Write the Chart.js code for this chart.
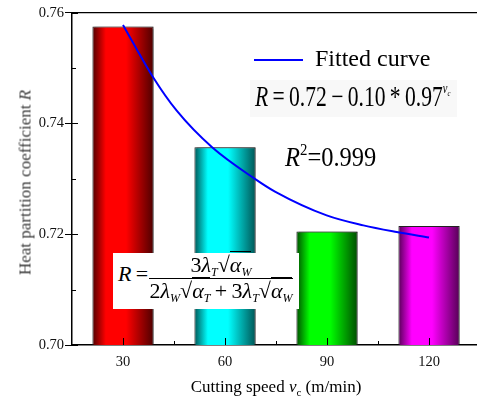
<!DOCTYPE html>
<html>
<head>
<meta charset="utf-8">
<script src="https://cdn.jsdelivr.net/npm/chart.js@4.4.1/dist/chart.umd.min.js"></script>
<style>
  html, body { margin: 0; padding: 0; background: #fff; }
  #wrap { position: relative; width: 477px; height: 399px; overflow: hidden; background: #fff; }
  #c { position: absolute; left: 0; top: 0; }
  .t { position: absolute; font-family: "Liberation Serif", "Times New Roman", serif; font-weight: normal; color: #000; white-space: nowrap; }
  .s { font-size: 12px; position: relative; top: 4px; font-style: italic; }
  .rad { border-top: 1px solid #000; }
</style>
</head>
<body>
<div id="wrap">
  <canvas id="c" width="482" height="399"></canvas>

  <!-- fitted expression -->
  <div class="t" style="left:250px;top:80px;width:207px;height:37px;background:#f8f8f8"></div>
  <div class="t" style="left:255px;top:82.4px;font-size:29px;line-height:29px;transform:scaleX(0.745);transform-origin:0 0;">
    <i>R</i>&thinsp;=&thinsp;0.72&thinsp;&minus;&thinsp;0.10&thinsp;*&thinsp;0.97<span style="font-size:14px;position:relative;top:-13px;font-style:italic">v<span style="font-size:9px;position:relative;top:3px">c</span></span>
  </div>
  <div class="t" style="left:285px;top:143.2px;font-size:28px;line-height:28px;transform:scaleX(0.875);transform-origin:0 0;">
    <i>R</i><span style="font-size:17px;position:relative;top:-11px">2</span>=0.999
  </div>

  <!-- heat partition model -->
  <div class="t" style="left:113px;top:253px;width:186px;height:56px;background:#fff;font-size:22px;line-height:22px;">
    <div class="t" style="left:5px;top:10.3px;"><i>R</i>&thinsp;=</div>
    <div class="t" style="left:36px;top:0.6px;width:144px;text-align:center;">3<i>λ</i><span class="s">T</span>√<span class="rad"><i>α</i><span class="s">W</span></span></div>
    <div style="position:absolute;left:36px;top:24.5px;width:144px;height:0;border-top:1px solid #000"></div>
    <div class="t" style="left:36px;top:26.9px;width:144px;text-align:center;">2<i>λ</i><span class="s">W</span>√<span class="rad"><i>α</i><span class="s">T</span></span>&thinsp;+&thinsp;3<i>λ</i><span class="s">T</span>√<span class="rad"><i>α</i><span class="s">W</span></span></div>
  </div>

  <!-- axis titles -->
  <div class="t" style="left:0;top:377.5px;width:552px;text-align:center;font-size:17px;line-height:17px;">Cutting speed <i>v</i><span style="font-size:11px;position:relative;top:4px">c</span> (m/min)</div>
  <div class="t" style="left:-124.7px;top:174px;width:300px;height:17px;text-align:center;font-size:17px;line-height:17px;color:#3a3a3a;transform:rotate(-90deg);">Heat partition coefficient <i>R</i></div>
</div>

<script>
// Cutting speed categories and measured heat partition coefficient
const speeds = ['30', '60', '90', '120'];
const partitionR = [0.7575, 0.7357, 0.7205, 0.7215];

// Fitted curve, sampled along cutting speed
const fitSpeed = [30, 38.9, 45.8, 56.2, 68.8, 74.7, 89.9, 100.7, 110.5, 120];
const fitR = [0.7578, 0.7483, 0.7423, 0.7357, 0.7300, 0.7277, 0.7234, 0.7216, 0.7204, 0.7194];

// Bar shading: [edge, bright]
const barShades = [
  ['#4e0000', '#ff0000'],
  ['#005656', '#00ffff'],
  ['#004e00', '#00ff00'],
  ['#560056', '#ff00ff']
];

const SERIF = '"Liberation Serif", "Times New Roman", serif';
Chart.defaults.font.family = SERIF;
Chart.defaults.color = '#111';

function barFill(ctx) {
  const chart = ctx.chart;
  const xs = chart.scales.x;
  const shade = barShades[ctx.dataIndex % barShades.length];
  if (!chart.chartArea || !xs || ctx.type !== 'data') return shade[1];
  const cx = xs.getPixelForValue(ctx.dataIndex);
  const half = xs.width / speeds.length * 0.6 / 2;
  const g = chart.ctx.createLinearGradient(cx - half, 0, cx + half, 0);
  g.addColorStop(0, shade[0]);
  g.addColorStop(0.22, shade[1]);
  g.addColorStop(0.55, shade[1]);
  g.addColorStop(1, shade[0]);
  return g;
}

const isMajor = v => Math.round(v * 100) % 2 === 0;

// Frame: top spine, inward tick marks, bar shadows and legend placement
const frame = {
  id: 'frame',
  afterLayout(chart) {
    const lg = chart.legend;
    if (!lg) return;
    const w = lg.width, h = lg.height;
    lg.left = 244; lg.top = 38; lg.right = 244 + w; lg.bottom = 38 + h;
  },
  beforeDatasetDraw(chart, args) {
    if (args.index !== 1) return;
    const c = chart.ctx;
    c.save();
    c.shadowColor = 'rgba(0,0,0,0.35)';
    c.shadowOffsetX = 2;
    c.shadowOffsetY = 0;
    c.shadowBlur = 1;
  },
  afterDatasetDraw(chart, args) {
    if (args.index !== 1) return;
    chart.ctx.restore();
  },
  afterDraw(chart) {
    const c = chart.ctx;
    const a = chart.chartArea;
    const ys = chart.scales.y, xs = chart.scales.x;
    c.save();
    c.strokeStyle = '#000';
    c.lineWidth = 1.3;
    c.beginPath();
    c.moveTo(a.left, a.top);
    c.lineTo(a.right, a.top);
    c.stroke();
    c.lineWidth = 1;
    c.beginPath();
    ys.ticks.forEach(t => {
      const y = Math.round(ys.getPixelForValue(t.value)) + 0.5;
      c.moveTo(a.left, y);
      c.lineTo(a.left + (isMajor(t.value) ? 6 : 4), y);
    });
    const step = xs.width / speeds.length;
    speeds.forEach((s, i) => {
      const x = Math.round(xs.getPixelForValue(i)) + 0.5;
      c.moveTo(x, a.bottom);
      c.lineTo(x, a.bottom - 7);
      const xb = Math.round(xs.getPixelForValue(i) + step / 2) + 0.5;
      c.moveTo(xb, a.bottom);
      c.lineTo(xb, a.bottom - 4);
    });
    c.stroke();
    c.restore();
  }
};

new Chart(document.getElementById('c'), {
  data: {
    labels: speeds,
    datasets: [
      {
        type: 'line',
        label: 'Fitted curve',
        data: fitSpeed.map((v, i) => ({ x: v, y: fitR[i] })),
        xAxisID: 'xv',
        borderColor: '#0000ff',
        backgroundColor: '#0000ff',
        borderWidth: 2,
        pointRadius: 0,
        cubicInterpolationMode: 'monotone',
        order: 0
      },
      {
        type: 'bar',
        label: 'R',
        data: partitionR,
        xAxisID: 'x',
        grouped: false,
        backgroundColor: barFill,
        borderColor: '#222',
        borderWidth: 1,
        barPercentage: 0.6,
        categoryPercentage: 1.0,
        order: 1
      }
    ]
  },
  options: {
    responsive: false,
    animation: false,
    devicePixelRatio: 1,
    layout: { padding: { top: 12.7, right: 2, left: 0, bottom: 0 } },
    plugins: {
      tooltip: { enabled: false },
      legend: {
        position: 'chartArea',
        align: 'start',
        labels: {
          filter: item => item.datasetIndex === 0,
          usePointStyle: true,
          pointStyle: 'line',
          pointStyleWidth: 49,
          color: '#000',
          padding: 10,
          font: { family: SERIF, size: 24 }
        }
      }
    },
    scales: {
      x: {
        type: 'category',
        offset: true,
        afterFit: s => { s.height = 54; },
        grid: { display: false, drawTicks: false },
        border: { display: true, color: '#000', width: 1.5 },
        ticks: { padding: 8, font: { size: 14.5 }, color: '#111' }
      },
      xv: {
        type: 'linear',
        display: false,
        position: 'bottom',
        min: 15,
        max: 135
      },
      y: {
        min: 0.70,
        max: 0.76,
        afterFit: s => { s.width = 72; },
        grid: {
          drawOnChartArea: false,
          tickLength: 7,
          tickColor: ctx => (ctx.tick && isMajor(ctx.tick.value)) ? '#000' : 'rgba(0,0,0,0)'
        },
        border: { display: true, color: '#000', width: 1.5 },
        ticks: {
          stepSize: 0.01,
          autoSkip: false,
          padding: 1,
          font: { size: 14.5 },
          color: '#111',
          callback: v => isMajor(v) ? v.toFixed(2) : ''
        }
      }
    }
  },
  plugins: [frame]
});
</script>
</body>
</html>
